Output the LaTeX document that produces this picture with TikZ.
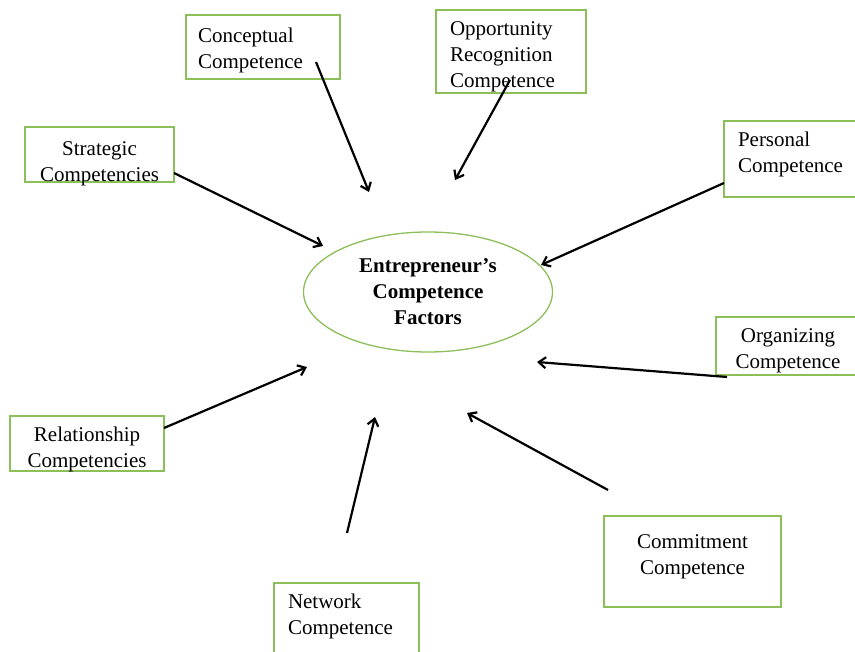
\documentclass[tikz,border=0pt]{standalone}
\usepackage{fontspec}
\setmainfont{Liberation Serif}
\usepackage{tikz}
\usetikzlibrary{arrows.meta}
\usetikzlibrary{shapes.geometric}
\definecolor{boxgreen}{RGB}{140,190,90}
\tikzset{factor/.style={draw=boxgreen, line width=1.3pt, rectangle,
    inner xsep=12pt, inner ysep=2pt,
    font=\fontsize{21}{26}\selectfont}}
\tikzset{core/.style={draw=boxgreen, line width=1.3pt, ellipse,
    minimum width=249pt, minimum height=120pt, align=center,
    font=\fontsize{21}{26}\selectfont\bfseries}}

\begin{document}
\begin{tikzpicture}[->,>={Straight Barb[length=7pt,width=11pt]},
      x=1pt, y=-1pt,
      line width=2.2pt]

    \useasboundingbox (0,0) rectangle (855,652);

    \node[core]
      (Factors) at (428,292) {Entrepreneur's\\Competence\\Factors};
    \node[factor, minimum width=154pt, minimum height=64pt, text width=130pt, align=left,
          text height=18.5pt, text depth=26.5pt]
      (Conceptual) at (263,47) {Conceptual\\Competence};
    \node[factor, minimum width=150pt, minimum height=83pt, inner xsep=14pt, text width=122pt, align=left,
          text height=19.5pt, text depth=51.5pt]
      (Opportunity) at (511,51.5) {Opportunity\\Recognition\\Competence};
    \node[factor, minimum width=149pt, minimum height=55pt, text width=125pt, align=center,
          text height=23.5pt, text depth=21.5pt]
      (Strategic) at (99.5,154.5) {Strategic\\Competencies};
    \node[factor, minimum width=136pt, minimum height=76pt, inner xsep=14pt, text width=108pt, align=left,
          text height=10.5pt, text depth=34.5pt]
      (Personal) at (792,159) {Personal\\Competence};
    \node[factor, minimum width=144pt, minimum height=58pt, text width=120pt, align=center,
          text height=19.5pt, text depth=25.5pt]
      (Organizing) at (788,346) {Organizing\\Competence};
    \node[factor, minimum width=154pt, minimum height=55pt, text width=130pt, align=center,
          text height=20.5pt, text depth=24.5pt]
      (Relationship) at (87,443.5) {Relationship\\Competencies};
    \node[factor, minimum width=177pt, minimum height=91pt, text width=153pt, align=center,
          text height=9.5pt, text depth=35.5pt]
      (Commitment) at (692.5,561.5) {Commitment\\Competence};
    \node[factor, minimum width=145pt, minimum height=80pt, inner xsep=14pt, text width=117pt, align=left,
          text height=7.5pt, text depth=37.5pt]
      (Network) at (346.5,623) {Network\\Competence};

    % free ends of the arrows
    \coordinate (ConceptualTail) at (316,62);
    \coordinate (ConceptualTip) at (369,192);
    \coordinate (OpportunityTail) at (510,80);
    \coordinate (OpportunityTip) at (455,180);
    \coordinate (StrategicTail) at (174,173);
    \coordinate (StrategicTip) at (323,246);
    \coordinate (PersonalTail) at (724,183);
    \coordinate (PersonalTip) at (541,265);
    \coordinate (OrganizingTail) at (727,377);
    \coordinate (OrganizingTip) at (537,362);
    \coordinate (RelationshipTail) at (164,428);
    \coordinate (RelationshipTip) at (307,367);
    \coordinate (NetworkTail) at (347,533);
    \coordinate (NetworkTip) at (375,417);
    \coordinate (CommitmentTail) at (608,490);
    \coordinate (CommitmentTip) at (467,413);

    \path[->]
      (ConceptualTail) edge (ConceptualTip)
      (OpportunityTail) edge (OpportunityTip)
      (StrategicTail) edge (StrategicTip)
      (PersonalTail) edge (PersonalTip)
      (OrganizingTail) edge (OrganizingTip)
      (RelationshipTail) edge (RelationshipTip)
      (NetworkTail) edge (NetworkTip)
      (CommitmentTail) edge (CommitmentTip);

  \end{tikzpicture}
\end{document}
